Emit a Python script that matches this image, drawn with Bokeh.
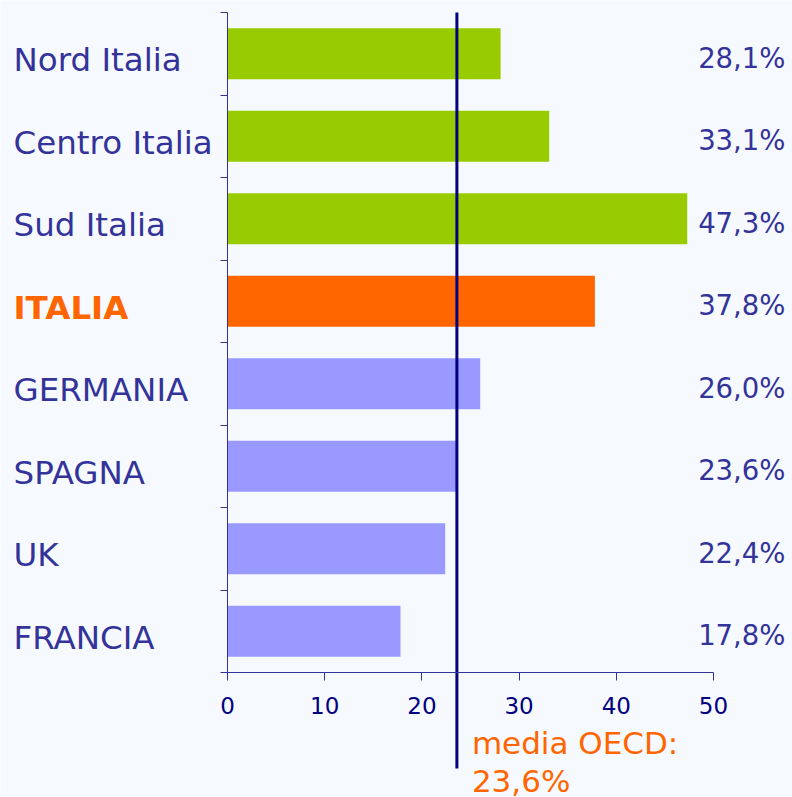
from bokeh.plotting import figure
from bokeh.models import ColumnDataSource, LabelSet, Label, Range1d, FixedTicker, LinearAxis
from bokeh.core.properties import value
from bokeh.embed import file_html
from bokeh.resources import INLINE

categories = ["Nord Italia", "Centro Italia", "Sud Italia", "ITALIA", "GERMANIA", "SPAGNA", "UK", "FRANCIA"]
values = [28.1, 33.1, 47.3, 37.8, 26.0, 23.6, 22.4, 17.8]
value_labels = ["28,1%", "33,1%", "47,3%", "37,8%", "26,0%", "23,6%", "22,4%", "17,8%"]
groups = ["it", "it", "it", "tot", "eu", "eu", "eu", "eu"]
x_ticks = [0, 10, 20, 30, 40, 50]
oecd_value = 23.6
oecd_text = ["media OECD:", "23,6%"]

W, H = 792, 797
BG = "#f6faff"
FONT = "DejaVu Sans"
bar_color = {"it": "#99cc00", "tot": "#ff6600", "eu": "#9999ff"}
name_color = {"it": "#333399", "tot": "#ff6600", "eu": "#333399"}
name_style = {"it": "normal", "tot": "bold", "eu": "normal"}

n = len(categories)
ys = [n - i - 0.5 for i in range(n)]

# pixel layout of the plotting area (axis origin at x=227, y=672; 50 at x=713; top at y=12)
x0_px, x50_px, ytop_px, ybot_px = 227, 713, 12, 672
ppx = (x50_px - x0_px) / 50.0
ppy = (ybot_px - ytop_px) / float(n)

src = ColumnDataSource(dict(
    y=ys,
    val=values,
    vlab=value_labels,
    name=categories,
    color=[bar_color[g] for g in groups],
    ncolor=[name_color[g] for g in groups],
    nstyle=[name_style[g] for g in groups],
    ylab=[y - 17.5 / ppy for y in ys],
    yval=[y - 14.0 / ppy for y in ys],
))

p = figure(width=W, height=H, output_backend="svg", toolbar_location=None,
           x_range=Range1d(-x0_px / ppx, (W - x0_px) / ppx),
           y_range=Range1d(-(H - ybot_px) / ppy, n + ytop_px / ppy),
           x_axis_location=None, y_axis_location=None,
           min_border_left=0, min_border_right=0, min_border_top=0, min_border_bottom=0)
p.background_fill_color = BG
p.border_fill_color = BG
p.outline_line_color = None
p.grid.visible = False

p.hbar(y="y", right="val", left=0, height=0.62, color="color", line_color=None, source=src)

# axes fixed at the data origin
xaxis = LinearAxis(fixed_location=0, bounds=(0, 50), ticker=FixedTicker(ticks=x_ticks))
xaxis.minor_tick_line_color = None
xaxis.major_tick_in = 0
xaxis.major_tick_out = 8
xaxis.axis_line_color = "#333399"
xaxis.major_tick_line_color = "#333399"
xaxis.major_label_text_color = "#000080"
xaxis.major_label_text_font = FONT
xaxis.major_label_text_font_size = "23px"
xaxis.major_label_standoff = 16
p.add_layout(xaxis, "below")

yaxis = LinearAxis(fixed_location=0, bounds=(0, n), ticker=FixedTicker(ticks=list(range(n + 1))))
yaxis.minor_tick_line_color = None
yaxis.major_tick_in = 0
yaxis.major_tick_out = 7
yaxis.axis_line_color = "#333399"
yaxis.major_tick_line_color = "#333399"
yaxis.major_label_text_color = None
p.add_layout(yaxis, "left")

# OECD mean line
p.segment(x0=[oecd_value], y0=[n], x1=[oecd_value], y1=[-(768 - ybot_px) / ppy],
          line_color="#000080", line_width=3)

# category labels (left aligned)
p.add_layout(LabelSet(x=13, y="ylab", x_units="screen", y_units="data", text="name",
                      text_color="ncolor", text_font_style="nstyle",
                      text_font=value(FONT), text_font_size="32.5px",
                      text_align="left", text_baseline="alphabetic", source=src))

# value labels (right aligned)
p.add_layout(LabelSet(x=785, y="yval", x_units="screen", y_units="data", text="vlab",
                      text_color="#333399", text_font=value(FONT), text_font_size="27.5px",
                      text_align="right", text_baseline="alphabetic", source=src))

for i, t in enumerate(oecd_text):
    p.add_layout(Label(x=oecd_value, y=-(742 - ybot_px + 38 * i) / ppy, x_offset=15, text=t,
                       text_color="#ff6600", text_font=FONT, text_font_size="31px",
                       text_align="left", text_baseline="alphabetic"))

open("out.html", "w").write(file_html(p, INLINE))
